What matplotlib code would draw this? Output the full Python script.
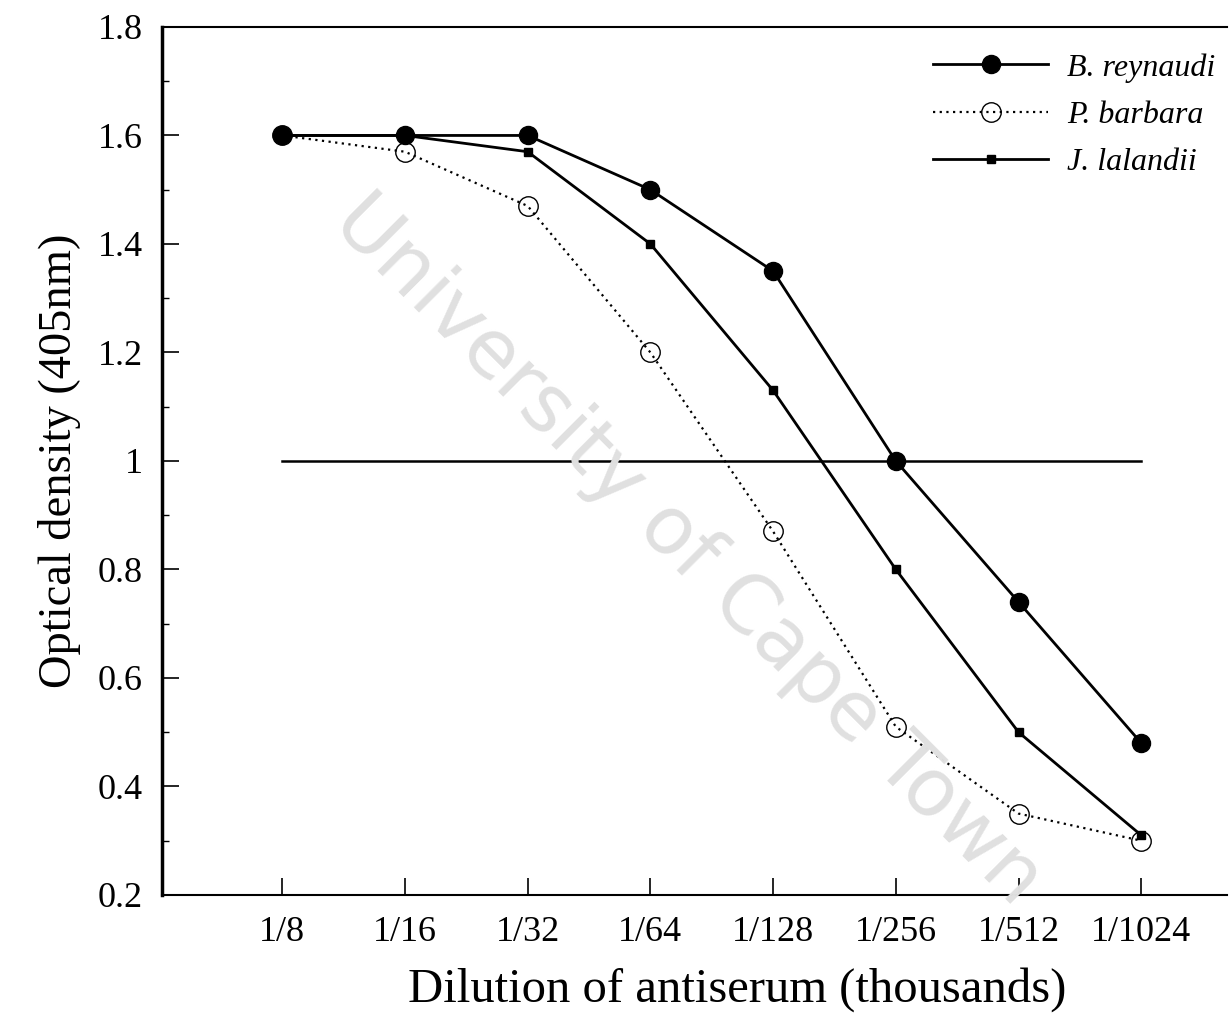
import matplotlib
matplotlib.use("Agg")
import matplotlib.pyplot as plt
from matplotlib.ticker import MultipleLocator, FixedLocator

categories = ["1/8", "1/16", "1/32", "1/64", "1/128", "1/256", "1/512", "1/1024"]
b_reynaudi = [1.60, 1.60, 1.60, 1.50, 1.35, 1.00, 0.74, 0.48]
p_barbara = [1.60, 1.57, 1.47, 1.20, 0.87, 0.51, 0.35, 0.30]
j_lalandii = [1.60, 1.60, 1.57, 1.40, 1.13, 0.80, 0.50, 0.31]
reference_level = 1.0
y_ticks = [0.2, 0.4, 0.6, 0.8, 1.0, 1.2, 1.4, 1.6, 1.8]
y_tick_labels = ["0.2", "0.4", "0.6", "0.8", "1", "1.2", "1.4", "1.6", "1.8"]

plt.rcParams['font.family'] = ['Liberation Serif', 'DejaVu Serif']

fig = plt.figure(figsize=(12.3, 10.17), dpi=100)
ax = fig.add_axes([0.1317, 0.12, 0.866, 0.8535])

x = list(range(len(categories)))

ax.plot([x[0], x[-1]], [reference_level, reference_level], color='black', lw=1.8)

ax.plot(x, p_barbara, linestyle=(0, (1, 2)), color='black', lw=1.6,
        marker='o', markersize=14, markerfacecolor='none', markeredgecolor='black',
        markeredgewidth=1.0, label='P. barbara', zorder=3)
ax.plot(x, j_lalandii, linestyle='-', color='black', lw=2.0,
        marker='s', markersize=6, markerfacecolor='black', markeredgecolor='black',
        label='J. lalandii', zorder=4)
ax.plot(x, b_reynaudi, linestyle='-', color='black', lw=2.0,
        marker='o', markersize=13, markerfacecolor='black', markeredgecolor='black',
        label='B. reynaudi', zorder=5)

ax.set_xlim(-0.98, 7.7)
ax.set_ylim(0.2, 1.8)
ax.xaxis.set_major_locator(FixedLocator(x))
ax.set_xticklabels(categories, fontsize=26)
ax.yaxis.set_major_locator(FixedLocator(y_ticks))
ax.set_yticklabels(y_tick_labels, fontsize=26)
ax.yaxis.set_minor_locator(MultipleLocator(0.1))

ax.tick_params(axis='x', direction='in', length=12, width=1.2, pad=15)
ax.tick_params(axis='y', which='major', direction='in', length=12, width=1.2, pad=14)
ax.tick_params(axis='y', which='minor', direction='in', length=5, width=1.0)

ax.spines['right'].set_visible(False)
ax.spines['left'].set_linewidth(2.5)
ax.spines['bottom'].set_linewidth(1.5)
ax.spines['top'].set_linewidth(1.5)

ax.set_xlabel("Dilution of antiserum (thousands)", fontsize=35, labelpad=12)
ax.xaxis.set_label_coords(0.54, -0.083)
ax.set_ylabel("Optical density (405nm)", fontsize=33.5, labelpad=12)

handles, labels = ax.get_legend_handles_labels()
order = [labels.index('B. reynaudi'), labels.index('P. barbara'), labels.index('J. lalandii')]
leg = ax.legend([handles[i] for i in order], [labels[i] for i in order],
                loc='upper right', bbox_to_anchor=(1.016, 1.003), frameon=False,
                prop={'style': 'italic', 'size': 23, 'family': 'Liberation Serif'},
                handlelength=3.6, labelspacing=0.56, handletextpad=0.6)

fig.text(0.559, 0.459, "University of Cape Town", fontsize=58, color='#e0e0e0',
         rotation=-45, ha='center', va='center', family='DejaVu Sans', zorder=0)

fig.savefig("out.png", dpi=100)
